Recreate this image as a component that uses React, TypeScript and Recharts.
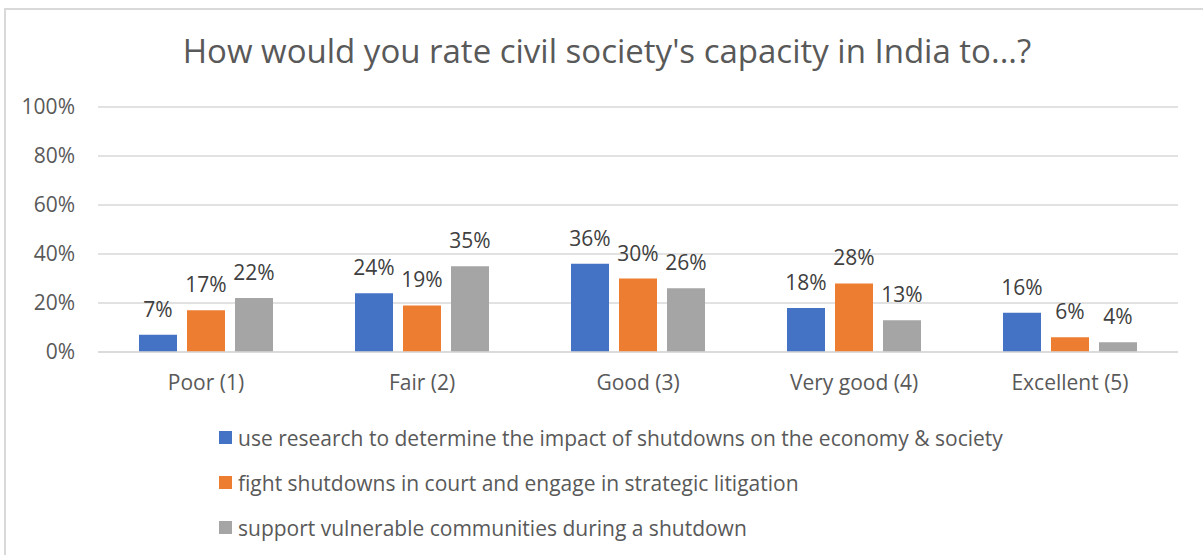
import { BarChart, Bar, XAxis, YAxis, CartesianGrid, Legend, LabelList } from "recharts";

const categories = ["Poor (1)", "Fair (2)", "Good (3)", "Very good (4)", "Excellent (5)"];
const research = [7, 24, 36, 18, 16];
const litigation = [17, 19, 30, 28, 6];
const support = [22, 35, 26, 13, 4];
const yTicks = [0, 20, 40, 60, 80, 100];

const seriesNames = [
  "use research to determine the impact of shutdowns on the economy & society",
  "fight shutdowns in court and engage in strategic litigation",
  "support vulnerable communities during a shutdown",
];
const COLORS = ["#4472C4", "#ED7D31", "#A5A5A5"];

const data = categories.map((c, i) => ({
  name: c,
  research: research[i],
  litigation: litigation[i],
  support: support[i],
}));

const FONT = "'Open Sans', sans-serif";

const renderLegend = () => (
  <div style={{ height: 155, paddingTop: 23, paddingLeft: 219, boxSizing: "border-box", fontFamily: FONT }}>
    {seriesNames.map((n, i) => (
      <div key={i} style={{ display: "flex", alignItems: "center", height: 45 }}>
        <div style={{ width: 13, height: 13, background: COLORS[i], marginRight: 6 }} />
        <span style={{ fontSize: 21, color: "#595959" }}>{n}</span>
      </div>
    ))}
  </div>
);

export default function App() {
  return (
    <div style={{ position: "absolute", left: 0, top: 0, width: 1203, height: 555, background: "#fff", overflow: "hidden" }}>
      <div
        style={{
          position: "absolute",
          left: 4,
          top: 8,
          width: 1260,
          height: 600,
          borderLeft: "2px solid #d9d9d9",
          borderTop: "2px solid #d9d9d9",
        }}
      />
      <div
        style={{
          position: "absolute",
          left: 4,
          top: 31,
          width: 1206,
          textAlign: "center",
          fontFamily: FONT,
          fontSize: 33,
          color: "#595959",
          lineHeight: "40px",
        }}
      >
        How would you rate civil society's capacity in India to...?
      </div>
      <div style={{ position: "absolute", left: 0, top: 0 }}>
        <BarChart
          width={1203}
          height={555}
          data={data}
          margin={{ top: 107, right: 25, bottom: 8, left: 0 }}
          barGap={10}
          barSize={38}
        >
          <CartesianGrid vertical={false} stroke="#d9d9d9" strokeWidth={1.5} />
          <XAxis
            dataKey="name"
            axisLine={{ stroke: "#d9d9d9", strokeWidth: 1.5 }}
            tickLine={false}
            tickSize={0}
            tickMargin={23}
            height={40}
            tick={{ fill: "#595959", fontSize: 21, fontFamily: FONT }}
          />
          <YAxis
            domain={[0, 100]}
            ticks={yTicks}
            tickFormatter={(v) => `${v}%`}
            axisLine={false}
            tickLine={false}
            tickSize={0}
            tickMargin={23}
            width={98}
            tick={{ fill: "#595959", fontSize: 21, fontFamily: FONT }}
          />
          <Legend verticalAlign="bottom" content={renderLegend} wrapperStyle={{ left: 0, width: 1203 }} />
          {(["research", "litigation", "support"] as const).map((k, i) => (
            <Bar key={k} dataKey={k} name={seriesNames[i]} fill={COLORS[i]} isAnimationActive={false}>
              <LabelList
                dataKey={k}
                position="top"
                offset={18}
                formatter={(v: number) => `${v}%`}
                style={{ fill: "#404040", fontSize: 21, fontFamily: FONT }}
              />
            </Bar>
          ))}
        </BarChart>
      </div>
    </div>
  );
}
